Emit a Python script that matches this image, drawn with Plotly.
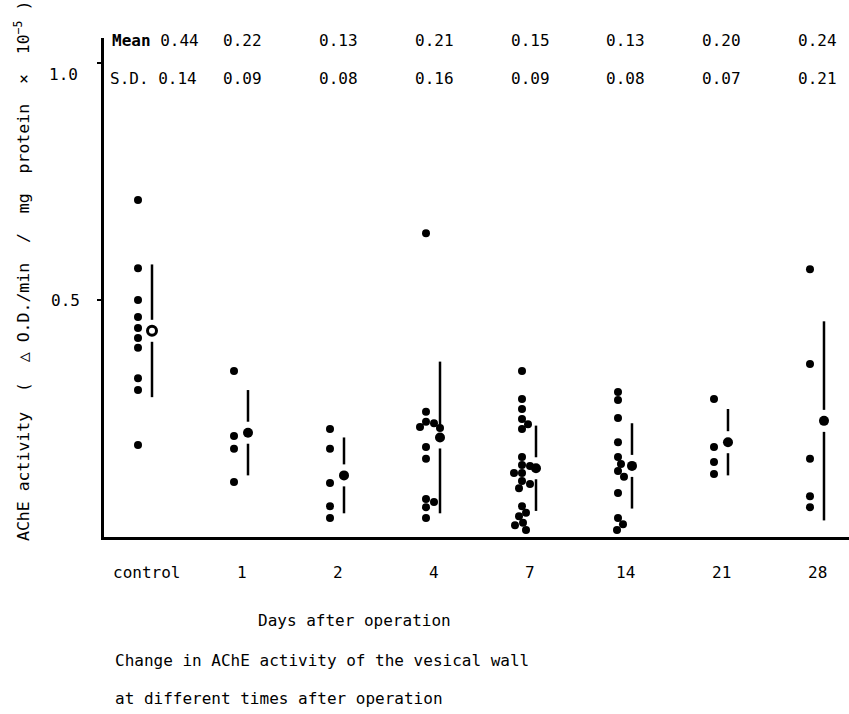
import plotly.graph_objects as go

# ---------------- data ----------------
categories = ["control", "1", "2", "4", "7", "14", "21", "28"]
mean_labels = ["0.44", "0.22", "0.13", "0.21", "0.15", "0.13", "0.20", "0.24"]
sd_labels = ["0.14", "0.09", "0.08", "0.16", "0.09", "0.08", "0.07", "0.21"]

# mean marker and S.D. bar as drawn in the figure
mean_drawn = [0.435, 0.22, 0.13, 0.21, 0.145, 0.15, 0.20, 0.245]
sd_drawn = [0.14, 0.09, 0.08, 0.16, 0.09, 0.09, 0.07, 0.21]

control_vals = [0.711, 0.567, 0.500, 0.464, 0.441, 0.420, 0.399, 0.335, 0.310, 0.194]
day1_vals = [0.350, 0.213, 0.186, 0.116]
day2_vals = [0.228, 0.186, 0.114, 0.065, 0.040]
day4_vals = [0.641, 0.264, 0.243, 0.240, 0.232, 0.230, 0.190, 0.165, 0.080, 0.074, 0.063, 0.040]
day7_vals = [0.350, 0.291, 0.270, 0.249, 0.238, 0.228, 0.169, 0.152, 0.150, 0.135, 0.135,
             0.118, 0.112, 0.103, 0.065, 0.051, 0.044, 0.030, 0.025, 0.015]
day14_vals = [0.306, 0.289, 0.251, 0.200, 0.169, 0.154, 0.139, 0.127, 0.093, 0.040, 0.027, 0.015]
day21_vals = [0.291, 0.190, 0.158, 0.133]
day28_vals = [0.565, 0.365, 0.165, 0.086, 0.063]
groups = [control_vals, day1_vals, day2_vals, day4_vals, day7_vals, day14_vals, day21_vals, day28_vals]

# ---------------- layout geometry ----------------
W_FIG, H_FIG = 849, 714
L, T, R, B = 104, 38, 0, 177
PW, PH = W_FIG - L - R, H_FIG - T - B
XR = [-0.4375, 7.323]
YR = [0, 1.0527]
PX_X = PW / (XR[1] - XR[0])
PX_Y = PH / (YR[1] - YR[0])
FONT = "DejaVu Sans Mono"
DOT = 8
DOT_OFF = -8 / PX_X
MEAN_OFF = 6 / PX_X
GAP = 11 / PX_Y


def px(xp):
    return (xp - L) / PW


def py(yp):
    return (T + PH - yp) / PH


def swarm(vals, d):
    placed, offs = [], []
    cands = sorted(range(-20, 21), key=lambda k: (abs(k), -k))
    for v in vals:
        yv = v * PX_Y
        chosen = 0
        for c in cands:
            if all((c - a) ** 2 + (yv - b) ** 2 >= (d * 0.95) ** 2 for a, b in placed):
                chosen = c
                break
        placed.append((chosen, yv))
        offs.append(chosen)
    return offs


fig = go.Figure()

# individual dots
for i, vals in enumerate(groups):
    offs = swarm(vals, DOT)
    xs = [i + DOT_OFF + o / PX_X for o in offs]
    fig.add_trace(go.Scatter(x=xs, y=vals, mode="markers",
                             marker=dict(size=DOT, color="black"),
                             showlegend=False, hoverinfo="y"))

# S.D. bars with a gap around the mean marker
for i, (m, s) in enumerate(zip(mean_drawn, sd_drawn)):
    xm = i + MEAN_OFF
    fig.add_trace(go.Scatter(x=[xm, xm, None, xm, xm],
                             y=[m + GAP, m + s, None, m - s, m - GAP],
                             mode="lines", line=dict(color="black", width=2.5),
                             showlegend=False, hoverinfo="skip"))

# mean markers
fig.add_trace(go.Scatter(x=[0 + MEAN_OFF], y=[mean_drawn[0]], mode="markers",
                         marker=dict(size=9, symbol="circle-open", color="black",
                                     line=dict(width=3, color="black")),
                         showlegend=False))
fig.add_trace(go.Scatter(x=[i + MEAN_OFF for i in range(1, len(categories))],
                         y=mean_drawn[1:], mode="markers",
                         marker=dict(size=10, color="black"),
                         showlegend=False))

ann = []
tf = dict(family=FONT, size=16, color="black")

# mean / SD rows
ann.append(dict(x=px(110), y=py(40), xref="paper", yref="paper", xanchor="left",
                yanchor="middle", text="<b>Mean</b> " + mean_labels[0], showarrow=False, font=tf))
ann.append(dict(x=px(108), y=py(79), xref="paper", yref="paper", xanchor="left",
                yanchor="middle", text="S.D. " + sd_labels[0], showarrow=False, font=tf))
for i in range(1, len(categories)):
    ann.append(dict(x=i, y=py(40), xref="x", yref="paper", xanchor="center",
                    yanchor="middle", text=mean_labels[i], showarrow=False, font=tf))
    ann.append(dict(x=i, y=py(79), xref="x", yref="paper", xanchor="center",
                    yanchor="middle", text=sd_labels[i], showarrow=False, font=tf))

# category labels
for i, c in enumerate(categories):
    ann.append(dict(x=i, y=py(572), xref="x", yref="paper", xanchor="center",
                    yanchor="middle", text=c, showarrow=False, font=tf))

# y tick labels
ann.append(dict(x=px(63), y=py(75), xref="paper", yref="paper", xanchor="center",
                yanchor="middle", text="1.0", showarrow=False, font=tf))
ann.append(dict(x=px(65), y=py(300), xref="paper", yref="paper", xanchor="center",
                yanchor="middle", text="0.5", showarrow=False, font=tf))

# axis titles / caption
ann.append(dict(x=px(22), y=py(271), xref="paper", yref="paper", xanchor="center",
                yanchor="middle", textangle=-90, showarrow=False,
                font=dict(family=FONT, size=16.5, color="black"),
                text="AChE activity  (  △ O.D./min  /  mg  protein  ×  10<sup>−5</sup> )"))
ann.append(dict(x=px(354), y=py(620), xref="paper", yref="paper", xanchor="center",
                yanchor="middle", text="Days after operation", showarrow=False, font=tf))
ann.append(dict(x=px(113), y=py(660), xref="paper", yref="paper", xanchor="left",
                yanchor="middle", text="Change in AChE activity of the vesical wall",
                showarrow=False, font=tf))
ann.append(dict(x=px(113), y=py(698), xref="paper", yref="paper", xanchor="left",
                yanchor="middle", text="at different times after operation",
                showarrow=False, font=tf))

fig.update_layout(
    width=W_FIG, height=H_FIG,
    margin=dict(l=L, r=R, t=T, b=B, pad=0),
    paper_bgcolor="white", plot_bgcolor="white",
    font=tf,
    showlegend=False,
    annotations=ann,
    xaxis=dict(range=XR, showline=True, linewidth=3, linecolor="black",
               showgrid=False, zeroline=False, showticklabels=False, ticks=""),
    yaxis=dict(range=YR, showline=True, linewidth=3, linecolor="black",
               showgrid=False, zeroline=False, showticklabels=False,
               tickvals=[0.5, 1.0], ticks="outside", ticklen=4, tickwidth=2,
               tickcolor="black"),
)

fig.write_html("out.html")
